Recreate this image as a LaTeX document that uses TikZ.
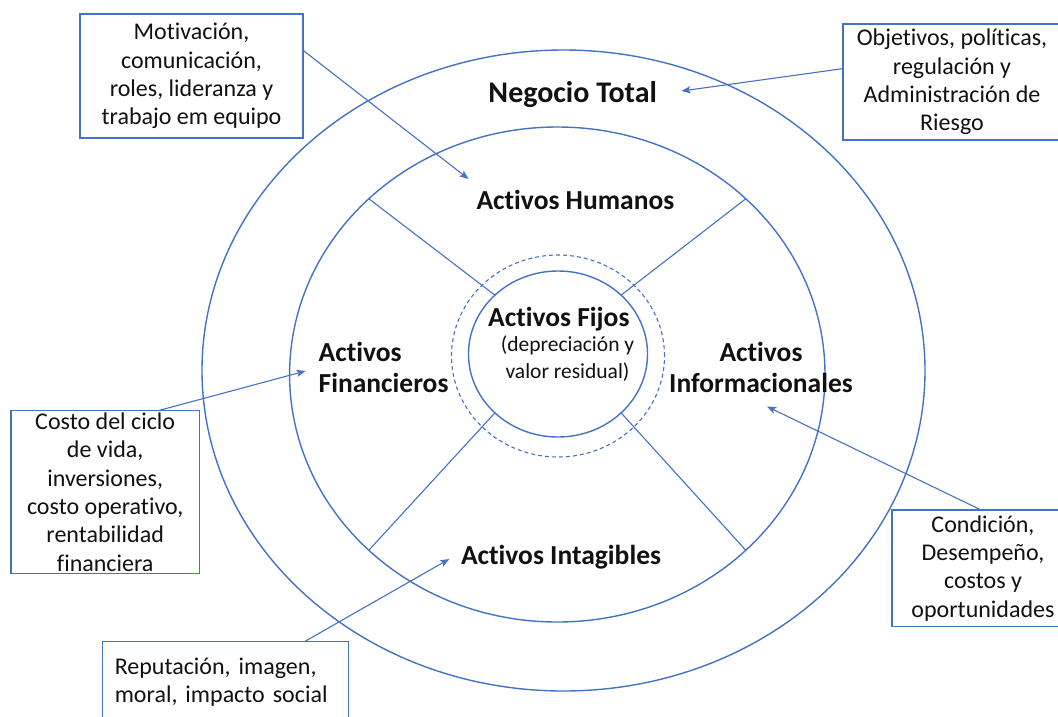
\documentclass[tikz,border=0pt]{standalone}
\usepackage{fontspec}
\setmainfont{Carlito}[Ligatures=NoCommon]
\usetikzlibrary{shapes.geometric,arrows.meta,calc}
\definecolor{ob}{HTML}{4472C4}
\definecolor{txt}{HTML}{111111}
\begin{document}
\begin{tikzpicture}[x=1pt,y=-1pt,
  ring/.style={ellipse,draw=ob,line width=1.4pt,inner sep=0pt,outer sep=0pt},
  divider/.style={draw=ob,line width=1.1pt},
  box/.style={rectangle,draw=ob,line width=1.4pt,fill=white,inner sep=0pt,outer sep=0pt,
    align=center,font=\fontsize{24}{28.3}\selectfont,text=txt},
  lbl/.style={font=\bfseries\fontsize{27.5}{31}\selectfont,inner sep=0pt,text=txt},
  sub/.style={font=\fontsize{21.5}{26.3}\selectfont,inner sep=0pt,text=txt,align=center},
  arr/.style={draw=ob,line width=1.1pt,-{Stealth[length=9pt,width=7pt,inset=2pt]}}]
\path[use as bounding box,fill=white] (0,0) rectangle (1058,716);
\clip (0,0) rectangle (1058,716);

% rings
\node[ring,minimum width=723pt,minimum height=641pt] (outer) at (563.5,370.5) {};
\node[ring,minimum width=535.4pt,minimum height=495pt] (inner) at (557.3,374.5) {};
\node[ring,dash pattern=on 4pt off 3pt,line width=1.1pt,minimum width=213pt,minimum height=202pt] (dc) at (558,356) {};
\node[ring,minimum width=179pt,minimum height=166pt] (fc) at (558,354) {};

% dividers
\draw[divider] (fc.137) -- (inner.137);
\draw[divider] (fc.43) -- (inner.43);
\draw[divider] (fc.223) -- (inner.223);
\draw[divider] (fc.317) -- (inner.317);

% labels
\node[lbl,font=\bfseries\fontsize{30}{34}\selectfont,anchor=base] (nt) at (572.7,102) {Negocio Total};
\node[lbl,anchor=base] (ah) at (575.4,209) {Activos Humanos};
\node[lbl,anchor=base] (af) at (558.8,326) {Activos Fijos};
\node[sub,anchor=base] (afd) at (567.5,378) {(depreciación y\\valor residual)};
\node[lbl,anchor=base west,align=left] (afin) at (318.5,392.5) {Activos\\Financieros};
\node[lbl,anchor=base,align=center] (ainf) at (761,392.5) {Activos\\Informacionales};
\node[lbl,anchor=base] (aint) at (561,564) {Activos Intagibles};

% boxes
\node[box,minimum width=223pt,minimum height=124pt] (mot) at (191.5,76)
  {Motivación,\\comunicación,\\roles, lideranza y\\trabajo em equipo};
\node[box,minimum width=218pt,minimum height=116pt] (obj) at (952,82)
  {Objetivos, políticas,\\regulación y\\Administración de\\Riesgo};
\node[box,minimum width=188.3pt,minimum height=162.6pt] (costo) at (105.2,492)
  {Costo del ciclo\\de vida,\\inversiones,\\costo operativo,\\rentabilidad\\financiera};
\node[box,minimum width=182pt,minimum height=116.7pt] (cond) at (983,568.3)
  {Condición,\\Desempeño,\\costos y\\oportunidades};
\node[box,minimum width=246pt,minimum height=80.6pt,align=left,text width=221pt] (rep) at (225.3,682)
  {Reputación, imagen,\\moral, impacto social};

% arrow targets
\coordinate (tah) at (468.6,179);
\coordinate (tnt) at (681.5,91);
\coordinate (tfin) at (305.6,371);
\coordinate (tinf) at (767,406.5);
\coordinate (tint) at (449.3,559);

% arrows
\draw[arr] (mot.13) -- (tah);
\draw[arr] (obj.173) -- (tnt);
\draw[arr] (costo.57) -- (tfin);
\draw[arr] (cond.92) -- (tinf);
\draw[arr] (rep.27) -- (tint);
\end{tikzpicture}
\end{document}
